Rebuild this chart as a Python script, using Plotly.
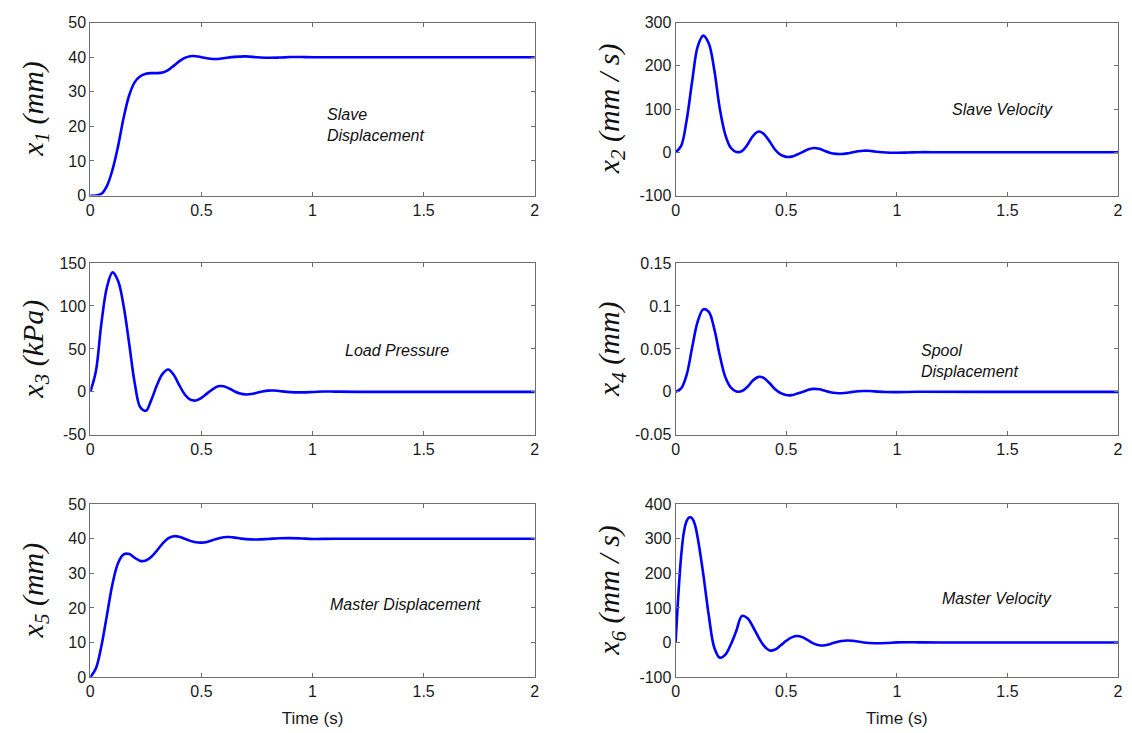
import plotly.graph_objects as go

# ---------------- data ----------------
t1 = [0, 0.025, 0.05, 0.075, 0.1, 0.125, 0.15, 0.175, 0.2, 0.225, 0.25, 0.275, 0.3, 0.325, 0.35,
      0.375, 0.4, 0.425, 0.45, 0.475, 0.5, 0.525, 0.55, 0.575, 0.6, 0.65, 0.7, 0.75, 0.8, 0.85,
      0.9, 0.95, 1.0, 1.2, 2.0]
x1 = [0, 0, 0.5, 2.8, 7.5, 14.3, 22.5, 29, 32.8, 34.5, 35.2, 35.4, 35.4, 35.6, 36.3,
      37.5, 38.8, 39.8, 40.3, 40.3, 40, 39.7, 39.5, 39.5, 39.7, 40.1, 40.25, 40, 39.85, 39.9,
      40.05, 40.05, 40, 40, 40]

t2 = [0, 0.025, 0.05, 0.075, 0.1, 0.125, 0.15, 0.175, 0.2, 0.225, 0.25, 0.275, 0.3, 0.325, 0.35,
      0.375, 0.4, 0.425, 0.45, 0.475, 0.5, 0.525, 0.55, 0.575, 0.6, 0.625, 0.65, 0.675, 0.7,
      0.725, 0.75, 0.775, 0.8, 0.825, 0.85, 0.875, 0.9, 0.95, 1.0, 1.05, 1.1, 1.2, 1.4, 2.0]
x2 = [0, 15, 75, 165, 245, 270, 252, 190, 100, 40, 10, 1, 3, 18, 38,
      48, 42, 25, 6, -6, -10.5, -10, -5, 1, 7, 10, 8, 3, -1.5,
      -3.5, -4, -2.5, 0, 2.5, 3.8, 3.5, 2, -0.5, -1, -0.5, 0.3, 0.2, 0, 0]

t3 = [0, 0.025, 0.05, 0.075, 0.1, 0.125, 0.15, 0.175, 0.2, 0.225, 0.25, 0.275, 0.3, 0.325, 0.35,
      0.375, 0.4, 0.425, 0.45, 0.475, 0.5, 0.525, 0.55, 0.575, 0.6, 0.625, 0.65, 0.675, 0.7,
      0.725, 0.75, 0.775, 0.8, 0.825, 0.85, 0.9, 0.95, 1.0, 1.05, 1.1, 1.2, 2.0]
x3 = [0, 24, 80, 122, 139, 129, 100, 56, 10, -18, -22, -9, 8, 21, 26,
      20, 8, -3, -9, -10, -7, -2, 3, 6.5, 6.5, 4, 0.5, -2, -3,
      -2.5, -1, 0.5, 1.5, 1.6, 1, -0.3, -0.6, -0.2, 0.4, 0.3, 0, 0]

t4 = [0, 0.025, 0.05, 0.075, 0.1, 0.125, 0.15, 0.175, 0.2, 0.225, 0.25, 0.275, 0.3, 0.325, 0.35,
      0.375, 0.4, 0.425, 0.45, 0.475, 0.5, 0.525, 0.55, 0.575, 0.6, 0.625, 0.65, 0.675, 0.7,
      0.725, 0.75, 0.775, 0.8, 0.825, 0.85, 0.875, 0.9, 0.95, 1.0, 1.1, 1.4, 2.0]
x4 = [0, 0.004, 0.02, 0.052, 0.082, 0.096, 0.093, 0.073, 0.042, 0.017, 0.005, 0.0005, 0.001,
      0.006, 0.0135, 0.0175, 0.016, 0.01, 0.003, -0.0015, -0.0037, -0.0038, -0.002, 0, 0.0025,
      0.0035, 0.003, 0.0012, -0.0005, -0.0013, -0.0015, -0.001, 0, 0.0008, 0.0011, 0.001,
      0.0006, -0.0002, -0.0003, 0.0001, 0, 0]

t5 = [0, 0.025, 0.05, 0.075, 0.1, 0.125, 0.15, 0.175, 0.2, 0.225, 0.25, 0.275, 0.3, 0.325, 0.35,
      0.375, 0.4, 0.425, 0.45, 0.475, 0.5, 0.525, 0.55, 0.575, 0.6, 0.625, 0.65, 0.675, 0.7,
      0.75, 0.8, 0.85, 0.9, 0.95, 1.0, 1.1, 2.0]
x5 = [0, 2.5, 9, 18, 27, 33, 35.5, 35.6, 34.5, 33.6, 33.7, 34.8, 36.6, 38.6, 40.1,
      40.75, 40.6, 40, 39.4, 39, 38.9, 39.1, 39.6, 40.1, 40.45, 40.5, 40.35, 40.1, 39.9,
      39.8, 39.95, 40.15, 40.2, 40.1, 39.95, 40, 40]

t6 = [0, 0.0125, 0.025, 0.0375, 0.05, 0.0625, 0.075, 0.0875, 0.1, 0.125, 0.15, 0.175, 0.2, 0.225,
      0.25, 0.275, 0.3, 0.325, 0.35, 0.375, 0.4, 0.425, 0.45, 0.475, 0.5, 0.525, 0.55, 0.575,
      0.6, 0.625, 0.65, 0.675, 0.7, 0.725, 0.75, 0.775, 0.8, 0.85, 0.9, 0.95, 1.0, 1.05, 1.1,
      1.2, 2.0]
x6 = [0, 140, 250, 320, 352, 362, 359, 340, 302, 198, 78, -15, -44, -35,
      -5, 35, 77, 70, 45, 15, -10, -23, -20, -8, 5, 15, 19, 15,
      6, -3, -8, -8, -4, 1, 4.5, 6, 5, 0, -2, -1.5, 0.5, 1, 0.5,
      0, 0]

y_titles = ["<i>x</i><sub><i>1</i></sub><i> (mm)</i>",
            "<i>x</i><sub><i>2</i></sub><i> (mm / s)</i>",
            "<i>x</i><sub><i>3</i></sub><i> (kPa)</i>",
            "<i>x</i><sub><i>4</i></sub><i> (mm)</i>",
            "<i>x</i><sub><i>5</i></sub><i> (mm)</i>",
            "<i>x</i><sub><i>6</i></sub><i> (mm / s)</i>"]
y_tickvals = [[0, 10, 20, 30, 40, 50],
              [-100, 0, 100, 200, 300],
              [-50, 0, 50, 100, 150],
              [-0.05, 0, 0.05, 0.1, 0.15],
              [0, 10, 20, 30, 40, 50],
              [-100, 0, 100, 200, 300, 400]]
y_ticktext = [["0", "10", "20", "30", "40", "50"],
              ["-100", "0", "100", "200", "300"],
              ["-50", "0", "50", "100", "150"],
              ["-0.05", "0", "0.05", "0.1", "0.15"],
              ["0", "10", "20", "30", "40", "50"],
              ["-100", "0", "100", "200", "300", "400"]]
x_tickvals = [0, 0.5, 1, 1.5, 2]
x_ticktext = ["0", "0.5", "1", "1.5", "2"]
labels = ["Slave<br>Displacement", "Slave Velocity", "Load Pressure",
          "Spool<br>Displacement", "Master Displacement", "Master Velocity"]
label_pos = [(1.055, 20.3), (1.24, 98), (1.138, 48), (1.099, 0.036), (1.071, 21), (1.193, 127)]

series = [(t1, x1), (t2, x2), (t3, x3), (t4, x4), (t5, x5), (t6, x6)]

# ---------------- layout geometry ----------------
W, H = 1132, 733
col_dom = [[87 / W, 535 / W], [677 / W, 1123 / W]]
row_dom = [[1 - 192 / H, 1 - 15 / H], [1 - 437 / H, 1 - 261 / H], [1 - 685 / H, 1 - 508 / H]]
title_x = [31 / W, 612 / W]

fig = go.Figure()
axis_color = "#6e6e6e"
tick_font = dict(family="Liberation Sans, Arial", size=16, color="#1a1a1a")

for i, (t, v) in enumerate(series):
    n = i + 1
    r, c = divmod(i, 2)
    xa = "x" if n == 1 else f"x{n}"
    ya = "y" if n == 1 else f"y{n}"
    fig.add_trace(go.Scatter(x=t, y=v, mode="lines", xaxis=xa, yaxis=ya,
                             line=dict(color="#0000ff", width=2.6, shape="spline", smoothing=1.0),
                             showlegend=False, hoverinfo="x+y"))
    xkey = "xaxis" if n == 1 else f"xaxis{n}"
    ykey = "yaxis" if n == 1 else f"yaxis{n}"
    xdict = dict(domain=col_dom[c], anchor=ya, range=[0, 2], tickmode="array",
                 tickvals=x_tickvals, ticktext=x_ticktext,
                 showgrid=False, zeroline=False, showline=True, mirror="ticks",
                 linecolor=axis_color, linewidth=1, ticks="inside", ticklen=4,
                 tickcolor=axis_color, tickfont=tick_font)
    if r == 2:
        xdict["title"] = dict(text="Time (s)", font=dict(family="Liberation Sans, Arial",
                                                         size=17, color="#1a1a1a"), standoff=12)
    ydict = dict(domain=row_dom[r], anchor=xa, range=[y_tickvals[i][0], y_tickvals[i][-1]],
                 tickmode="array", tickvals=y_tickvals[i], ticktext=y_ticktext[i],
                 showgrid=False, zeroline=False, showline=True, mirror="ticks",
                 linecolor=axis_color, linewidth=1, ticks="inside", ticklen=4,
                 tickcolor=axis_color, tickfont=tick_font)
    fig.update_layout({xkey: xdict, ykey: ydict})
    # y-axis title (rotated, fixed position like the original figure)
    fig.add_annotation(x=title_x[c], y=sum(row_dom[r]) / 2, xref="paper", yref="paper",
                       text=y_titles[i], textangle=-90, showarrow=False,
                       xanchor="center", yanchor="middle",
                       font=dict(family="Liberation Serif, Times New Roman", size=30,
                                 color="#111111"))
    lx, ly = label_pos[i]
    fig.add_annotation(x=lx, y=ly, xref=xa, yref=ya, text=f"<i>{labels[i]}</i>",
                       showarrow=False, xanchor="left", yanchor="middle", align="left",
                       font=dict(family="Liberation Sans, Arial", size=16, color="#111111"))

fig.update_layout(width=W, height=H, margin=dict(l=0, r=0, t=0, b=0),
                  paper_bgcolor="white", plot_bgcolor="white")

fig.write_html("out.html")
